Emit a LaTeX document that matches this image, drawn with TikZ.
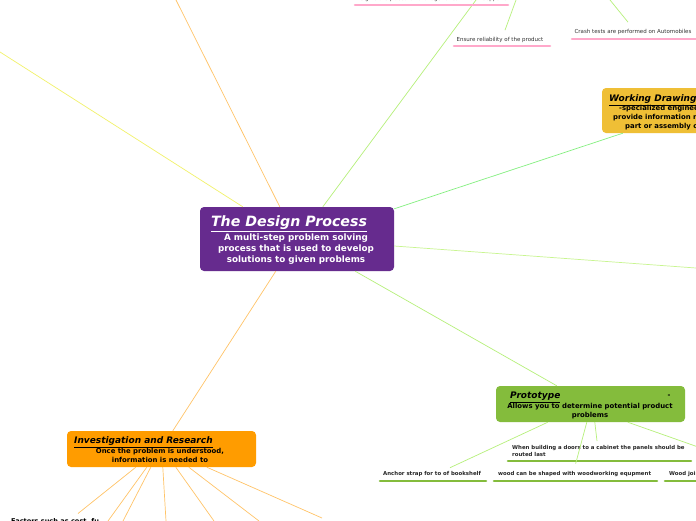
\documentclass[tikz,border=0pt]{standalone}
\usepackage{fontspec}
\setmainfont{DejaVu Sans}
\usetikzlibrary{calc}
\definecolor{cpurple}{HTML}{662B8E}
\definecolor{cgold}{HTML}{EFBF36}
\definecolor{cgreen}{HTML}{84BC3C}
\definecolor{corange}{HTML}{FF9C00}
\definecolor{cpink}{HTML}{FFA8CA}
\definecolor{lyellow}{HTML}{F2F26A}
\definecolor{lorange}{HTML}{FFC468}
\definecolor{lgreen}{HTML}{B6F07A}
\definecolor{lgreenb}{HTML}{84F080}
\definecolor{lgreenc}{HTML}{C8F590}
\definecolor{txtgray}{HTML}{333333}
\tikzset{
  box/.style={draw=none, rounded corners=4pt, inner sep=0pt},
  conn/.style={line width=0.7pt},
  pbar/.style={cpink, line width=2.6pt, line cap=round},
  gbar/.style={cgreen, line width=2.6pt, line cap=round},
  small/.style={inner sep=0pt, font=\fontsize{5.5}{6}\selectfont, text=txtgray},
  smallb/.style={inner sep=0pt, font=\fontsize{5.4}{6.8}\selectfont\bfseries, text=black!85, align=left},
  ttl/.style={inner sep=0pt, font=\fontsize{9}{10}\selectfont\bfseries\itshape, text=black},
  body/.style={inner sep=0pt, font=\fontsize{6.9}{8.8}\selectfont\bfseries, text=black, align=center},
}
\begin{document}
\begin{tikzpicture}[x=1pt,y=-1pt]
\useasboundingbox (0,0) rectangle (696,520);
\clip (0,0) rectangle (696,520);
\fill[white] (0,0) rectangle (696,520);

% boxes
\node[box, fill=cpurple, minimum width=194pt, minimum height=64pt] (c) at (297,239) {};
\node[box, fill=cgold, minimum width=160pt, minimum height=45pt] (wd) at (682,110.5) {};
\node[box, fill=cgreen, minimum width=189pt, minimum height=36pt] (p) at (590.5,404) {};
\node[box, fill=corange, minimum width=189pt, minimum height=36pt] (inv) at (161.5,449) {};

% free ends
\coordinate (yl) at (0,52);
\coordinate (ol) at (176,0);
\coordinate (gl) at (476,0);
\coordinate (rl) at (696,268);
\coordinate (t1) at (516,0);
\coordinate (t2) at (610,0);

% central connectors
\draw[conn, lyellow] ([xshift=43pt]c.north west) -- (yl);
\draw[conn, lorange] ([xshift=80pt]c.north west) -- (ol);
\draw[conn, lgreen] ([xshift=123pt]c.north west) -- (gl);
\draw[conn, lgreenb] ([yshift=-2pt]c.north east) -- ([xshift=21pt]wd.south west);
\draw[conn, lgreenc] ([yshift=-7pt]c.east) -- (rl);
\draw[conn, lgreen] ([xshift=-39pt]c.south east) -- ([xshift=61pt]p.north west);
\draw[conn, lorange] ([xshift=76pt]c.south west) -- ([xshift=106pt]inv.north west);

% central text
\node[inner sep=0pt, font=\fontsize{14.2}{15}\selectfont\bfseries\itshape, text=white] (ctitle) at (289,223.5) {\underline{The Design Process}};
\node[inner sep=0pt, font=\fontsize{8.8}{11}\selectfont\bfseries, text=white, align=center] (cbody) at (296,249) {A multi-step problem solving\\process that is used to develop\\solutions to given problems};

% working drawing text
\node[ttl, anchor=west] (wdt) at (609,100.5) {\underline{Working Drawings}};
\node[body, anchor=west] (wd1) at (619,108.5) {-specialized engineering drawings that};
\node[body, anchor=west] (wd2) at (613,117.5) {provide information needed to make a};
\node[body, anchor=west] (wd3) at (625,126.5) {part or assembly of parts};

% prototype text
\node[ttl, anchor=west] (pt) at (510,397.5) {\underline{Prototype}};
\node[body] (pdash) at (669,396) {-};
\node[body] (pb) at (590,411) {Allows you to determine potential product\\problems};

% investigation text
\node[ttl, anchor=west] (it) at (74,442.5) {\underline{Investigation and Research}};
\node[body] (ib) at (160,455.5) {Once the problem is understood,\\information is needed to};

% prototype children
\node[smallb, anchor=north west] (pc1) at (512,445) {When building a doors to a cabinet the panels should be\\routed last};
\draw[gbar] (508,461) -- (691,461);
\node[smallb, anchor=west] (pc2) at (383,474.5) {Anchor strap for to of bookshelf};
\draw[gbar] (380,481) -- (486,481);
\node[smallb, anchor=west] (pc3) at (498,474.5) {wood can be shaped with woodworking equpment};
\draw[gbar] (494,481) -- (657,481);
\node[smallb, anchor=west] (pc4) at (669,474.5) {Wood joints};
\draw[gbar] (665,481) -- (700,481);

\draw[conn, lgreen] ([xshift=52pt]p.south west) -- ([xshift=18pt,yshift=4pt]pc2.north);
\draw[conn, lgreen] ([xshift=91pt]p.south west) -- ([xshift=1pt,yshift=8pt]pc3.north);
\draw[conn, lgreen] ([xshift=99pt]p.south west) -- ([xshift=85pt,yshift=4pt]pc1.north west);
\draw[conn, lgreen] ([xshift=132pt]p.south west) -- ([xshift=27pt,yshift=19pt]pc4.north);

% investigation children
\node[inner sep=0pt, anchor=north west, font=\fontsize{6.6}{7}\selectfont\bfseries] (ic1) at (11,518.5) {Factors such as cost, fu};
\draw[conn, lorange] ([xshift=69pt]inv.south west) -- ([xshift=67pt,yshift=5pt]ic1.north west) coordinate (ie1);
\coordinate (ie2) at (108,521);
\coordinate (ie3) at (123,521);
\coordinate (ie4) at (166,521);
\coordinate (ie5) at (214,521);
\coordinate (ie6) at (259,521);
\coordinate (ie7) at (322,518);
\draw[conn, lorange] ([xshift=80pt]inv.south west) -- (ie2);
\draw[conn, lorange] ([xshift=84pt]inv.south west) -- (ie3);
\draw[conn, lorange] ([xshift=96pt]inv.south west) -- (ie4);
\draw[conn, lorange] ([xshift=109pt]inv.south west) -- (ie5);
\draw[conn, lorange] ([xshift=122pt]inv.south west) -- (ie6);
\draw[conn, lorange] ([xshift=140pt]inv.south west) -- (ie7);

% top children
\node[small] (tc0) at (431,-1) {Weights are placed on a bridge to test what it supports};
\draw[pbar] (355,5) -- (508,5);
\node[small] (tc1) at (500,40) {Ensure reliability of the product};
\draw[pbar] (454,46) -- (550,46);
\node[small] (tc2) at (633,32) {Crash tests are performed on Automobiles};
\draw[pbar] (572,39) -- (700,39);
\draw[conn, lgreen] (t1) -- ([xshift=5pt,yshift=7pt]tc1.north);
\draw[conn, lgreen] (t2) -- ([xshift=-5pt,yshift=7pt]tc2.north);
\end{tikzpicture}
\end{document}
